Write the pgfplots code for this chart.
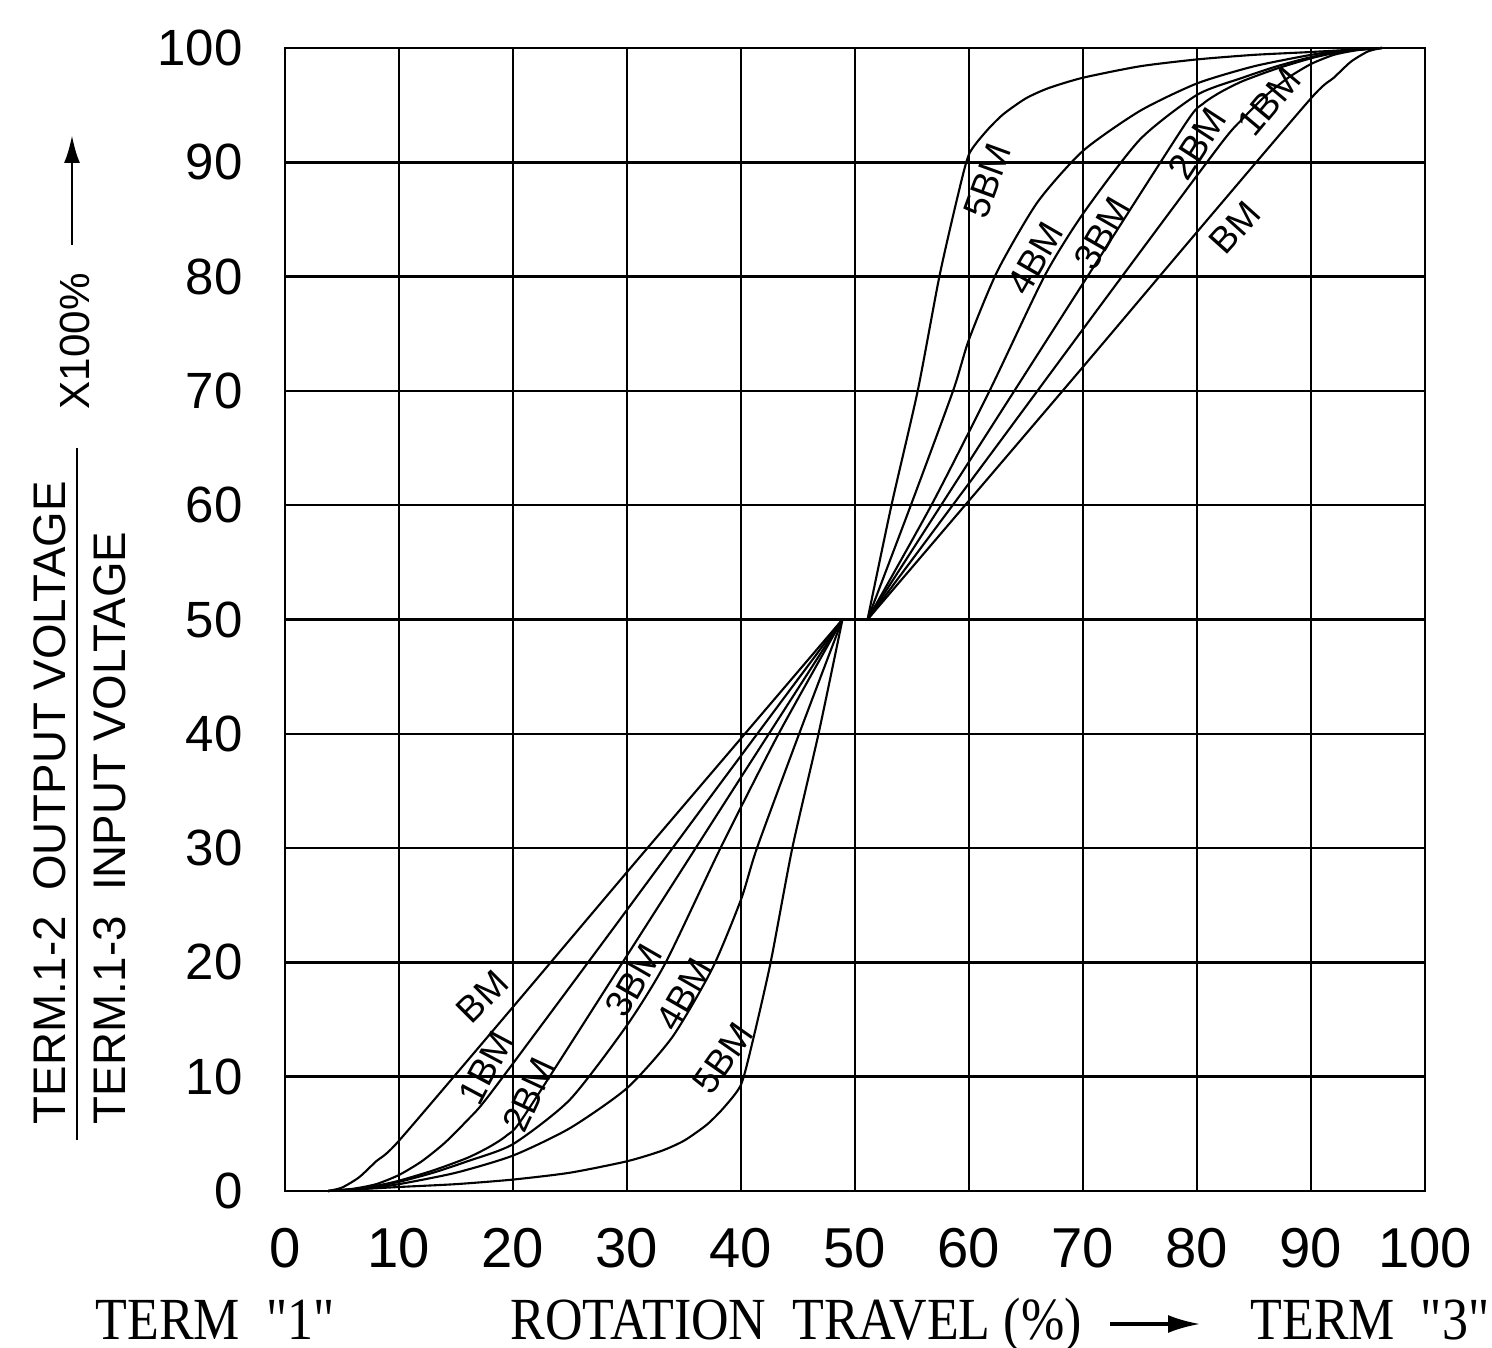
\documentclass[border=0pt]{standalone}
\usepackage{fontspec}
\setmainfont{Liberation Sans}
\newfontfamily\serifF{Liberation Serif}
\usepackage{graphicx}
\usepackage{pgfplots}
\pgfplotsset{compat=1.18}
\usetikzlibrary{arrows.meta}
\pgfplotsset{curve/.style={black, line width=0.6pt, smooth, tension=0.4, mark=none}}
\begin{document}
\begin{tikzpicture}
\path[use as bounding box] (-2.85,-1.57) rectangle (12.07,11.91);
\begin{axis}[
  at={(0,0)}, anchor=south west,
  scale only axis, width=11.4cm, height=11.43cm,
  xmin=0, xmax=100, ymin=0, ymax=100,
  xtick={0,10,...,100}, ytick={0,10,...,100},
  xticklabels={0,10,20,30,40,50,60,70,80,90,100},
  yticklabels={0,10,20,30,40,50,60,70,80,90,100},
  grid=major, major grid style={black, line width=0.7pt},
  axis line style={black, line width=0.7pt},
  major tick length=0pt,
  xticklabel style={font=\fontsize{16}{16}\selectfont, yshift=-0.25cm},
  yticklabel style={font=\fontsize{14.5}{14.5}\selectfont, xshift=-0.3cm},
  clip=false,
]
% ---- lower half (TERM 1 side) ----
\addplot[curve] coordinates {(3.8,0)(5,0.3)(6.5,1.2)(8,2.6)(10,4.4)(20,16.1)(30,27.9)(40,39.6)(48.9,50)};
\addplot[curve] coordinates {(3.8,0)(6,0.2)(8,0.6)(10,1.4)(12,2.6)(14,4.2)(16,6.2)(18,8.5)(28,21.9)(38,35.4)(48.9,50)};
\addplot[curve] coordinates {(3.8,0)(6,0.15)(8,0.45)(10,0.9)(13,1.8)(16,2.9)(18,3.9)(19.5,4.9)(21,6.6)(30,20.6)(40,36.2)(48.9,50)};
\addplot[curve] coordinates {(3.8,0)(7,0.25)(10,0.8)(13,1.6)(16,2.6)(20,4.1)(25,8)(30,14.5)(33.4,20)(38.2,30)(43.3,40)(48.9,50)};
\addplot[curve] coordinates {(3.8,0)(7,0.2)(10,0.6)(15,1.6)(20,3.1)(25,5.5)(30,9.0)(34,13.5)(37.5,19.5)(40,25.5)(41.4,30)(45.1,40)(48.9,50)};
\addplot[curve] coordinates {(3.8,0)(10,0.35)(15,0.6)(20,1.0)(25,1.6)(30,2.6)(33,3.5)(35,4.4)(37,5.8)(38.5,7.3)(40,9.3)(41,13)(42.6,20)(44.5,30)(46.8,40)(48.9,50)};
% ---- upper half (TERM 3 side) ----
\addplot[curve] coordinates {(96.2,100)(95,99.7)(93.5,98.8)(92,97.4)(90,95.6)(80,83.9)(70,72.1)(60,60.4)(51.1,50)};
\addplot[curve] coordinates {(96.2,100)(94,99.8)(92,99.4)(90,98.6)(88,97.4)(86,95.8)(84,93.8)(82,91.5)(72,78.1)(62,64.6)(51.1,50)};
\addplot[curve] coordinates {(96.2,100)(94,99.85)(92,99.55)(90,99.1)(87,98.2)(84,97.1)(82,96.1)(80.5,95.1)(79,93.4)(70,79.4)(60,63.8)(51.1,50)};
\addplot[curve] coordinates {(96.2,100)(93,99.75)(90,99.2)(87,98.4)(84,97.4)(80,95.9)(75,92)(70,85.5)(66.6,80)(61.8,70)(56.7,60)(51.1,50)};
\addplot[curve] coordinates {(96.2,100)(93,99.8)(90,99.4)(85,98.4)(80,96.9)(75,94.5)(70,91)(66,86.5)(62.5,80.5)(60,74.5)(58.6,70)(54.9,60)(51.1,50)};
\addplot[curve] coordinates {(96.2,100)(90,99.65)(85,99.4)(80,99)(75,98.4)(70,97.4)(67,96.5)(65,95.6)(63,94.2)(61.5,92.7)(60,90.7)(59,87)(57.4,80)(55.5,70)(53.2,60)(51.1,50)};
% ---- curve labels ----
\begin{scope}[every node/.style={font=\fontsize{10.5}{10.5}\selectfont, inner sep=0pt}]
\node[rotate=45] at (axis cs:17.3,17.0) {BM};
\node[rotate=62] at (axis cs:17.6,10.8) {1BM};
\node[rotate=65] at (axis cs:21.4,8.4) {2BM};
\node[rotate=60] at (axis cs:30.6,18.4) {3BM};
\node[rotate=60] at (axis cs:35.0,17.2) {4BM};
\node[rotate=55] at (axis cs:38.4,11.6) {5BM};
\node[rotate=70] at (axis cs:61.6,88.4) {5BM};
\node[rotate=60] at (axis cs:65.8,81.6) {4BM};
\node[rotate=60] at (axis cs:71.7,83.8) {3BM};
\node[rotate=57] at (axis cs:80.0,91.6) {2BM};
\node[rotate=50] at (axis cs:86.3,95.3) {1BM};
\node[rotate=48] at (axis cs:83.3,84.3) {BM};
\end{scope}
\end{axis}
% ---- y axis title (fraction) ----
\node[rotate=90, anchor=west, inner sep=0pt, font=\fontsize{13}{13}\selectfont] at (-2.35,0.66) {TERM.1-2\ \ OUTPUT VOLTAGE};
\node[rotate=90, anchor=west, inner sep=0pt, font=\fontsize{13}{13}\selectfont] at (-1.75,0.66) {TERM.1-3\ \ INPUT VOLTAGE};
\draw[line width=0.85pt] (-2.08,0.51) -- (-2.08,7.43);
\node[rotate=90, anchor=west, inner sep=0pt, font=\fontsize{12}{12}\selectfont] at (-2.1,7.81) {X100\%};
\draw[line width=0.85pt, -{Latex[length=0.28cm, width=0.16cm]}] (-2.13,9.46) -- (-2.13,10.56);
% ---- x axis title ----
\node[anchor=base west, inner sep=0pt, font=\serifF\fontsize{17}{17}\selectfont] at (-1.9,-1.49) {\scalebox{0.87}[1]{TERM\ \ "1"}};
\node[anchor=base west, inner sep=0pt, font=\serifF\fontsize{17}{17}\selectfont] at (2.25,-1.49) {\scalebox{0.87}[1]{ROTATION\ \ TRAVEL (\%)}};
\draw[line width=0.9pt, -{Latex[length=0.32cm, width=0.18cm]}] (8.25,-1.33) -- (9.15,-1.33);
\node[anchor=base east, inner sep=0pt, font=\serifF\fontsize{17}{17}\selectfont] at (12.05,-1.49) {\scalebox{0.87}[1]{TERM\ \ "3"}};
\end{tikzpicture}
\end{document}
